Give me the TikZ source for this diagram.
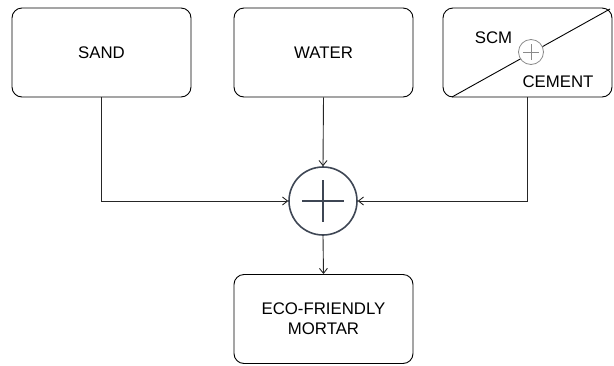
\documentclass[tikz,border=0pt]{standalone}
\usepackage{fontspec}
\setmainfont{Liberation Sans}
\usetikzlibrary{arrows.meta,calc}
\definecolor{ringc}{HTML}{3E4654}
\definecolor{smallc}{HTML}{8A8A8A}
\begin{document}
\begin{tikzpicture}[x=1pt,y=-1pt,
  lbl/.style={font=\fontsize{16.8}{20}\selectfont},
  box/.style={draw=black,line width=0.9pt,rounded corners=10pt,minimum width=179pt,minimum height=89pt,inner sep=0pt,align=center,lbl},
  conn/.style={draw=black!85,line width=0.9pt,-{Straight Barb[length=5pt,width=8pt]}}]
\useasboundingbox (0,0) rectangle (614,365);
\node[box] (sand) at (101.5,52.5) {SAND};
\node[box] (water) at (323.5,52.5) {WATER};
\node[box,minimum width=169pt] (scm) at (527.5,52.5) {};
\node[box] (out) at (323.5,319) {ECO-FRIENDLY\\MORTAR};
\node[circle,draw=ringc,line width=1.6pt,fill=white,minimum size=68pt,inner sep=0pt] (sum) at (323,201) {};
\draw[ringc,line width=1.6pt] ($(sum.center)+(-21,0)$) -- ($(sum.center)+(21,0)$);
\draw[ringc,line width=1.6pt] ($(sum.center)+(0,-21)$) -- ($(sum.center)+(0,21)$);
% SCM diagonal
\coordinate (dA) at (452,97);
\coordinate (dB) at (610,9);
\draw[line width=0.9pt] (dA) -- (dB);
\node[circle,draw=smallc,line width=0.8pt,fill=white,minimum size=25pt,inner sep=0pt] (mini) at (531,52) {};
\draw[smallc,line width=0.8pt] ($(mini.center)+(-8,0)$) -- ($(mini.center)+(8,0)$);
\draw[smallc,line width=0.8pt] ($(mini.center)+(0,-8)$) -- ($(mini.center)+(0,8)$);
\node[lbl] (scmt) at (493.5,38) {SCM};
\node[lbl] (cemt) at (558,82) {CEMENT};
% connectors
\draw[conn] (sand.south) |- (sum.west);
\draw[conn] (water.south) -- (sum.north);
\draw[conn] (scm.south) |- (sum.east);
\draw[conn] (sum.south) -- (out.north);
\end{tikzpicture}
\end{document}
